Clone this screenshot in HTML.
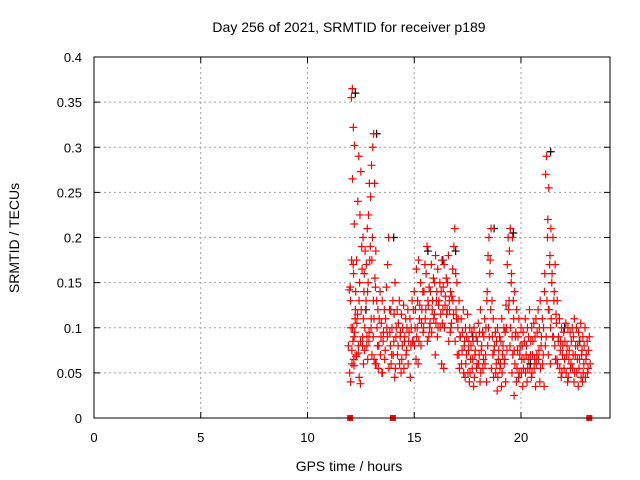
<!DOCTYPE html>
<html><head><meta charset="utf-8"><style>
body{margin:0;background:#fff;}
svg{display:block;font-family:"Liberation Sans",sans-serif;}
</style></head><body>
<svg id="chart" width="640" height="480" viewBox="0 0 640 480">
<rect width="640" height="480" fill="#fff"/>
<text x="349" y="32" font-size="14" text-anchor="middle">Day 256 of 2021, SRMTID for receiver p189</text>
<text x="349" y="471" font-size="14" text-anchor="middle">GPS time / hours</text>
<text transform="translate(19,238) rotate(-90)" font-size="14" text-anchor="middle">SRMTID / TECUs</text>
<g id="grid"></g>
<g id="ticks"></g>
<g id="black"></g>
<g id="red"></g>
<rect x="94" y="57" width="516" height="361" fill="none" stroke="#000" stroke-width="1"/>
</svg>
<script>
const xTicks=[0,5,10,15,20];
const yTicks=[0,0.05,0.1,0.15,0.2,0.25,0.3,0.35,0.4];
const yTickLabels=["0","0.05","0.1","0.15","0.2","0.25","0.3","0.35","0.4"];
const hours=[12.0,12.1,12.15,12.2,12.3,12.4,12.5,12.6,12.7,12.8,12.9,13.0,13.1,13.2,13.3,13.4,13.5,13.6,13.7,13.8,13.9,14.0,14.1,14.2,14.3,14.4,14.5,14.6,14.7,14.8,14.9,15.0,15.1,15.2,15.3,15.4,15.5,15.6,15.7,15.8,15.9,16.0,16.1,16.2,16.3,16.4,16.5,16.6,16.7,16.8,16.9,17.0,17.1,17.2,17.3,17.4,17.5,17.6,17.7,17.8,17.9,18.0,18.1,18.2,18.3,18.4,18.5,18.6,18.7,18.8,18.9,19.0,19.1,19.2,19.3,19.4,19.5,19.6,19.7,19.8,19.9,20.0,20.1,20.2,20.3,20.4,20.5,20.6,20.7,20.8,20.9,21.0,21.1,21.2,21.3,21.4,21.5,21.6,21.7,21.8,21.9,22.0,22.1,22.2,22.3,22.4,22.5,22.6,22.7,22.8,22.9,23.0,23.1,23.2];
const values=[[0.145,0.142,0.10,0.08,0.06,0.05,0.04],[0.365,0.355,0.17,0.13,0.09,0.075],[0.322,0.265,0.215,0.175,0.11,0.085,0.065],[0.302,0.16,0.12,0.1,0.07,0.058],[0.175,0.14,0.115,0.095,0.08,0.068],[0.29,0.24,0.15,0.105,0.085,0.072,0.045],[0.273,0.225,0.19,0.13,0.09,0.038],[0.2,0.165,0.14,0.12,0.1,0.08,0.06],[0.185,0.16,0.13,0.11,0.09,0.075],[0.21,0.17,0.15,0.12,0.095,0.08,0.065],[0.26,0.225,0.19,0.14,0.11,0.085],[0.28,0.245,0.2,0.175,0.13,0.1,0.07],[0.315,0.3,0.26,0.175,0.145,0.09,0.065],[0.185,0.155,0.13,0.11,0.08,0.06],[0.12,0.1,0.08,0.06],[0.14,0.11,0.09,0.055,0.05],[0.13,0.105,0.085,0.07],[0.12,0.095,0.075,0.05],[0.145,0.11,0.09,0.065],[0.2,0.17,0.12,0.1,0.08],[0.12,0.095,0.07,0.055],[0.13,0.1,0.085,0.06,0.045],[0.15,0.115,0.09,0.07],[0.12,0.1,0.08,0.055],[0.13,0.105,0.09,0.07,0.05],[0.115,0.095,0.08,0.06],[0.125,0.1,0.085,0.065],[0.11,0.09,0.075,0.055],[0.12,0.1,0.085,0.07],[0.11,0.095,0.08,0.06],[0.13,0.1,0.085,0.045],[0.14,0.12,0.1,0.085,0.065],[0.165,0.12,0.1,0.08,0.06],[0.175,0.13,0.11,0.09],[0.15,0.125,0.105,0.085],[0.14,0.12,0.1,0.08],[0.17,0.14,0.12,0.095],[0.19,0.16,0.13,0.11,0.09],[0.145,0.125,0.105,0.085],[0.17,0.14,0.12,0.1],[0.155,0.13,0.115,0.095,0.07],[0.18,0.15,0.13,0.11,0.09],[0.165,0.14,0.125,0.105],[0.15,0.13,0.115,0.1,0.06],[0.175,0.14,0.12,0.1,0.055],[0.17,0.145,0.125,0.105],[0.155,0.135,0.12,0.1],[0.18,0.15,0.13,0.115,0.095],[0.14,0.12,0.105,0.085],[0.165,0.135,0.115,0.1],[0.21,0.19,0.16,0.13,0.11],[0.15,0.12,0.1,0.085,0.07],[0.13,0.11,0.09,0.07],[0.11,0.09,0.075,0.055],[0.12,0.095,0.08,0.06,0.045],[0.1,0.085,0.07,0.05],[0.115,0.09,0.075,0.06,0.04],[0.1,0.085,0.065,0.05],[0.095,0.08,0.065,0.05,0.035],[0.1,0.085,0.07,0.055],[0.09,0.075,0.06,0.045],[0.105,0.085,0.07,0.055,0.04],[0.12,0.095,0.075,0.06],[0.095,0.08,0.065,0.05],[0.11,0.09,0.07,0.055,0.04],[0.13,0.1,0.08,0.06],[0.2,0.18,0.16,0.14,0.12,0.1],[0.21,0.175,0.13,0.09,0.07],[0.11,0.09,0.075,0.055],[0.095,0.08,0.06,0.045,0.03],[0.1,0.085,0.065,0.05],[0.09,0.075,0.06,0.045,0.035],[0.11,0.085,0.07,0.055],[0.1,0.08,0.065,0.05,0.04],[0.125,0.095,0.075,0.06],[0.2,0.17,0.13,0.1,0.08],[0.21,0.185,0.15,0.12,0.09],[0.2,0.16,0.13,0.1,0.075,0.05],[0.14,0.11,0.09,0.07,0.04,0.025],[0.12,0.095,0.075,0.06,0.045],[0.11,0.09,0.07,0.055],[0.1,0.08,0.065,0.05,0.035],[0.095,0.08,0.065,0.05],[0.11,0.085,0.07,0.055,0.04],[0.1,0.08,0.065,0.05],[0.12,0.09,0.07,0.055,0.045],[0.1,0.085,0.07,0.055],[0.105,0.085,0.065,0.05,0.035],[0.11,0.09,0.07,0.055],[0.12,0.095,0.075,0.06,0.04],[0.13,0.1,0.08,0.065],[0.11,0.09,0.07,0.055,0.035],[0.14,0.1,0.08,0.06],[0.29,0.27,0.2,0.16,0.12,0.09],[0.255,0.22,0.17,0.13,0.1,0.07],[0.21,0.18,0.15,0.12,0.09,0.06],[0.2,0.16,0.13,0.11,0.08],[0.17,0.14,0.115,0.09,0.065],[0.13,0.105,0.085,0.065],[0.11,0.09,0.075,0.06,0.045],[0.1,0.085,0.07,0.055],[0.095,0.08,0.065,0.05],[0.105,0.085,0.07,0.055,0.04],[0.1,0.08,0.065,0.05],[0.095,0.075,0.06,0.045],[0.1,0.085,0.07,0.055,0.04],[0.11,0.09,0.07,0.055],[0.1,0.08,0.065,0.05,0.035],[0.095,0.08,0.065,0.05],[0.105,0.085,0.07,0.055,0.04],[0.09,0.075,0.06,0.045],[0.1,0.08,0.065,0.05],[0.085,0.07,0.055,0.045],[0.09,0.075,0.06,0.05]];
const blackHours=[12.1,12.6,13.1,13.9,15.5,16.2,16.8,17.6,18.6,19.5,20.3,21.25,21.9,22.6];
const blackValues=[0.36,0.12,0.315,0.2,0.185,0.175,0.185,0.09,0.21,0.205,0.06,0.295,0.1,0.085];
const markerHours=[12.0,14.0,23.2];

const NS="http://www.w3.org/2000/svg";
const X0=94,X1=610,Y0=418,Y1=57,XMAX=24.17,YMAX=0.4;
function xs(h){return X0+(X1-X0)*h/XMAX;}
function ys(v){return Y0-(Y0-Y1)*v/YMAX;}
function mk(tag,attrs,parent){const e=document.createElementNS(NS,tag);for(const k in attrs)e.setAttribute(k,attrs[k]);parent.appendChild(e);return e;}
const grid=document.getElementById('grid'),ticks=document.getElementById('ticks');
xTicks.forEach(t=>{
  const x=xs(t);
  if(t>0){const g=mk('line',{x1:x,x2:x,y1:Y1,y2:Y0,stroke:'#a0a0a0','stroke-dasharray':'2,3'},grid);
  
  }
  mk('line',{x1:x,x2:x,y1:Y0,y2:Y0-6,stroke:'#000'},ticks);
  mk('line',{x1:x,x2:x,y1:Y1,y2:Y1+6,stroke:'#000'},ticks);
  const l=mk('text',{x:x,y:442,'font-size':13,'text-anchor':'middle'},ticks);
  l.textContent=String(t);
  
  
});
yTicks.forEach((t,i)=>{
  const y=ys(t);
  if(i>0&&i<yTicks.length-1){const g=mk('line',{x1:X0,x2:X1,y1:y,y2:y,stroke:'#a0a0a0','stroke-dasharray':'2,3'},grid);
  
  }
  mk('line',{x1:X0,x2:X0+6,y1:y,y2:y,stroke:'#000'},ticks);
  mk('line',{x1:X1,x2:X1-6,y1:y,y2:y,stroke:'#000'},ticks);
  const l=mk('text',{x:82,y:y+5,'font-size':13,'text-anchor':'end'},ticks);
  l.textContent=yTickLabels[i];
  
  
});
function plus(parent,x,y,col){
  return mk('path',{d:`M${x-4} ${y}H${x+4}M${x} ${y-4}V${y+4}`,stroke:col,'stroke-width':1.2,fill:'none'},parent);
}
const spread=[0,-1,1,-2,2,-0.5,0.5];
const black=document.getElementById('black'),red=document.getElementById('red');
blackHours.forEach((h,i)=>{
  const p=plus(black,xs(h)+3,ys(blackValues[i]),'#000');
  
  
});
hours.forEach((h,i)=>{
  values[i].forEach((v,j)=>{
    const p=plus(red,xs(h)+spread[j%spread.length]*0.9,ys(v),'#f00');
    
    
  });
});
markerHours.forEach(h=>{
  const r=mk('rect',{x:xs(h)-3,y:Y0-3,width:6,height:6,fill:'#f00'},red);
  
  
});
</script>
</body></html>
